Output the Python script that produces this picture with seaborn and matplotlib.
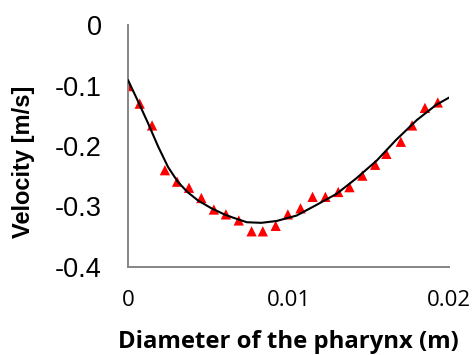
import matplotlib
matplotlib.use("Agg")
import matplotlib.pyplot as plt
import seaborn as sns
import pandas as pd

# measured data (triangles)
diameter = [0.0000, 0.00073, 0.0015, 0.0023, 0.00306, 0.0038, 0.00457, 0.00535,
            0.0061, 0.0069, 0.0077, 0.0084, 0.0092, 0.00996, 0.01075, 0.0115,
            0.0123, 0.0131, 0.0138, 0.0146, 0.0154, 0.0161, 0.0170, 0.0177,
            0.0185, 0.0193]
velocity = [-0.101, -0.130, -0.166, -0.240, -0.259, -0.269, -0.286, -0.305,
            -0.313, -0.323, -0.341, -0.341, -0.332, -0.313, -0.303, -0.284,
            -0.284, -0.276, -0.268, -0.249, -0.231, -0.213, -0.193, -0.166,
            -0.137, -0.128]

# fitted curve
fit_x = [0.0, 0.00064, 0.00126, 0.00188, 0.0025, 0.0031, 0.0037, 0.00436,
         0.0052, 0.0060, 0.0065, 0.0074, 0.0083, 0.00925, 0.0105, 0.0117,
         0.0130, 0.0142, 0.0155, 0.0167, 0.0180, 0.0192, 0.0200]
fit_y = [-0.091, -0.127, -0.163, -0.201, -0.235, -0.259, -0.276, -0.290,
         -0.303, -0.313, -0.318, -0.326, -0.327, -0.324, -0.315, -0.298,
         -0.279, -0.254, -0.224, -0.190, -0.157, -0.132, -0.120]

x_ticks = [0, 0.01, 0.02]
x_tick_labels = ["0", "0.01", "0.02"]
y_ticks = [0, -0.1, -0.2, -0.3, -0.4]
y_tick_labels = ["0", "-0.1", "-0.2", "-0.3", "-0.4"]

pts = pd.DataFrame({"d": diameter, "v": velocity})
fit = pd.DataFrame({"d": fit_x, "v": fit_y})

sns.set_style("white")
plt.rcParams["text.color"] = "black"
plt.rcParams["axes.labelcolor"] = "black"
fig = plt.figure(figsize=(4.74, 3.55), dpi=100)
ax = fig.add_axes([128/474, 1-267/355, (449-128)/474, (267-25)/355])

sns.scatterplot(data=pts, x="d", y="v", marker="^", color="#ff0000", s=55,
                edgecolor="none", ax=ax, zorder=2)
sns.lineplot(data=fit, x="d", y="v", color="black", linewidth=1.5, ax=ax, zorder=3)

ax.set_xlim(0, 0.02)
ax.set_ylim(-0.4, 0)
ax.set_xticks(x_ticks)
ax.set_xticklabels(x_tick_labels, family="Open Sans", fontsize=16)
ax.set_yticks(y_ticks)
ax.set_yticklabels(y_tick_labels, family="Liberation Sans", fontsize=19.5)

axis_col = "#868686"
for s in ["top", "right"]:
    ax.spines[s].set_visible(False)
for s in ["left", "bottom"]:
    ax.spines[s].set_color(axis_col)
    ax.spines[s].set_linewidth(1.4)
ax.tick_params(axis="both", direction="out", length=6, width=1.4, color=axis_col,
               labelcolor="black")
ax.tick_params(axis="x", pad=10.5)
ax.tick_params(axis="y", pad=13)
ax.grid(False)

ax.set_xlabel("Diameter of the pharynx (m)", family="Open Sans", fontweight="bold",
              fontsize=17.2, va="center", color="black")
ax.xaxis.set_label_coords(0.5, (267-342)/242)
ax.set_ylabel("Velocity [m/s]", family="Liberation Sans", fontweight="bold",
              fontsize=17, va="center", color="black")
ax.yaxis.set_label_coords((23-128)/321, (267-162)/242)

fig.savefig("out.png", dpi=100)
